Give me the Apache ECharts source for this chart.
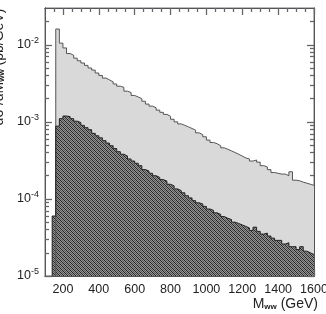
<!DOCTYPE html>
<html>
<head>
<meta charset="utf-8">
<script src="https://cdn.jsdelivr.net/npm/echarts@6/dist/echarts.min.js"></script>
<style>
  html, body { margin: 0; padding: 0; background: #fff; }
  #main { width: 326px; height: 314px; }
</style>
</head>
<body>
<div id="main"></div>
<script>
// histogram bins (GeV), 20 GeV wide, first bin starts at 140
var binStart = 140;
var binWidth = 20;

// total (light grey), null where empty
var totalVals = [
  null, 0.0160, 0.0105, 0.0091, 0.0077, 0.0073, 0.0067, 0.0062, 0.0058, 0.0054,
  0.0050, 0.0047, 0.0043, 0.0040, 0.0037, 0.0035, 0.0033, 0.0031, 0.0029, 0.0028,
  0.0025, 0.0024, 0.0022, 0.0021, 0.0020, 0.00185, 0.0017, 0.0016, 0.00152, 0.00142,
  0.00133, 0.00125, 0.00118, 0.00108, 0.00100, 0.00094, 0.00090, 0.00086, 0.00082, 0.00078,
  0.00072, 0.00068, 0.00064, 0.00058, 0.00054, 0.00052, 0.00049, 0.00046, 0.00044, 0.00042,
  0.00040, 0.00038, 0.00036, 0.00034, 0.00033, 0.00031, 0.00032, 0.00030, 0.00027, 0.00026,
  0.00024, 0.00022, 0.000215, 0.00021, 0.00021, 0.00020, 0.000225, 0.000175, 0.000172, 0.000165,
  0.000160, 0.000155, 0.000150
];

// hatched part
var partVals = [
  6.0e-5, 8.8e-4, 1.10e-3, 1.19e-3, 1.17e-3, 1.10e-3, 1.02e-3, 9.8e-4, 9.0e-4, 8.4e-4,
  7.9e-4, 7.1e-4, 6.6e-4, 6.2e-4, 5.7e-4, 5.3e-4, 4.9e-4, 4.5e-4, 4.1e-4, 3.8e-4,
  3.6e-4, 3.3e-4, 3.1e-4, 2.9e-4, 2.7e-4, 2.4e-4, 2.3e-4, 2.15e-4, 2.0e-4, 1.9e-4,
  1.78e-4, 1.7e-4, 1.55e-4, 1.48e-4, 1.35e-4, 1.28e-4, 1.2e-4, 1.1e-4, 1.03e-4, 9.5e-5,
  8.9e-5, 8.6e-5, 8.0e-5, 7.4e-5, 7.1e-5, 6.6e-5, 6.3e-5, 5.9e-5, 5.6e-5, 5.4e-5,
  5.0e-5, 4.8e-5, 4.6e-5, 4.4e-5, 4.2e-5, 3.9e-5, 4.3e-5, 3.8e-5, 3.5e-5, 3.6e-5,
  3.3e-5, 3.1e-5, 2.9e-5, 2.9e-5, 2.6e-5, 2.7e-5, 2.4e-5, 2.4e-5, 2.2e-5, 2.4e-5,
  2.1e-5, 2.0e-5, 1.9e-5
];

var xMin = 100, xMax = 1600;
var yMin = 1e-5, yMax = 0.03;
var xMajor = [200, 400, 600, 800, 1000, 1200, 1400, 1600];
var yMajor = [1e-5, 1e-4, 1e-3, 1e-2];
var xTitle = '{a|M}{s|ww}{a| (GeV)}';
var yTitle = '{a|dσ /dM}{s|ww}{a| (pb/GeV)}';

var xMinor = [];
for (var v = 150; v < xMax; v += 50) {
  if (xMajor.indexOf(v) < 0) xMinor.push(v);
}
var yMinor = [];
yMajor.forEach(function (d) {
  for (var k = 2; k <= 9; k++) {
    if (d * k < yMax) yMinor.push(d * k);
  }
});

// step outline points: start at the bottom, one point per bin, close at last edge
function stepData(vals) {
  var pts = [];
  var last = null;
  vals.forEach(function (val, i) {
    if (val == null) return;
    var x = binStart + i * binWidth;
    if (!pts.length) pts.push([x, yMin]);
    pts.push([x, val]);
    last = val;
  });
  pts.push([binStart + vals.length * binWidth, last]);
  return pts;
}

// hatch pattern
var hatch = document.createElement('canvas');
hatch.width = 4; hatch.height = 4;
var hc = hatch.getContext('2d');
hc.fillStyle = '#949494';
hc.fillRect(0, 0, 4, 4);
for (var i = 0; i < 4; i++) {
  hc.fillStyle = '#222';
  hc.fillRect(i, i, 1, 1);
  hc.fillStyle = '#555';
  hc.fillRect(i, (i + 2) % 4, 1, 1);
}

var font = 'Liberation Sans';
var tickColor = '#666';
var frameColor = '#777';
var titleRich = {
  a: { fontSize: 14, fontFamily: font, color: '#222' },
  s: { fontSize: 8, fontWeight: 'bold', fontFamily: font, color: '#222', padding: [5, 0, 0, 0] }
};

function xAxisDef(pos, ticks, len, labels) {
  var ax = {
    type: 'value', position: pos, min: xMin, max: xMax,
    splitLine: { show: false },
    axisTick: { show: true, inside: true, length: len, customValues: ticks, lineStyle: { color: tickColor, width: 1.3 } },
    axisLabel: labels ? {
      show: true, customValues: xMajor, margin: 7, fontSize: 12.5, color: '#222', fontFamily: font,
      formatter: function (val) { return String(val); }
    } : { show: false }
  };
  if (labels) {
    ax.name = xTitle;
    ax.nameLocation = 'end';
    ax.nameGap = 4;
    ax.nameTextStyle = { align: 'right', verticalAlign: 'top', padding: [21, 0, 0, 0], rich: titleRich };
  }
  return ax;
}
function yAxisDef(pos, ticks, len, labels) {
  var ax = {
    type: 'log', position: pos, min: yMin, max: yMax,
    splitLine: { show: false },
    axisTick: { show: true, inside: true, length: len, customValues: ticks, lineStyle: { color: tickColor, width: 1.3 } },
    axisLabel: labels ? {
      show: true, customValues: yMajor, margin: 6, color: '#222', fontFamily: font,
      formatter: function (val) {
        return '{b|10}{s|' + Math.round(Math.log10(val)) + '}';
      },
      rich: {
        b: { fontSize: 12.5, fontFamily: font, color: '#222' },
        s: { fontSize: 9, fontFamily: font, color: '#222', padding: [0, 0, 9, 0] }
      }
    } : { show: false }
  };
  if (labels) {
    ax.name = yTitle;
    ax.nameLocation = 'middle';
    ax.nameGap = 20;
    ax.nameTextStyle = { padding: [0, 0, 0, 150], rich: titleRich };
  }
  return ax;
}

var myChart = echarts.init(document.getElementById('main'));
myChart.setOption({
  animation: false,
  grid: {
    left: 45, right: 12, top: 8, bottom: 38, containLabel: false, outerBoundsMode: 'none',
    show: true, borderColor: frameColor, borderWidth: 1
  },
  xAxis: [
    xAxisDef('bottom', xMajor, 7, true),
    xAxisDef('bottom', xMinor, 4, false),
    xAxisDef('top', xMajor, 7, false),
    xAxisDef('top', xMinor, 4, false)
  ],
  yAxis: [
    yAxisDef('left', yMajor, 7, true),
    yAxisDef('left', yMinor, 4, false),
    yAxisDef('right', yMajor, 7, false),
    yAxisDef('right', yMinor, 4, false)
  ],
  series: [
    {
      type: 'line', step: 'end', showSymbol: false,
      data: stepData(totalVals),
      lineStyle: { color: '#555', width: 1 },
      areaStyle: { color: '#d9d9d9', opacity: 1, origin: 'start' }
    },
    {
      type: 'line', step: 'end', showSymbol: false,
      data: stepData(partVals),
      lineStyle: { color: '#222', width: 1 },
      areaStyle: { color: { image: hatch, repeat: 'repeat' }, opacity: 1, origin: 'start' }
    }
  ]
});
</script>
</body>
</html>
